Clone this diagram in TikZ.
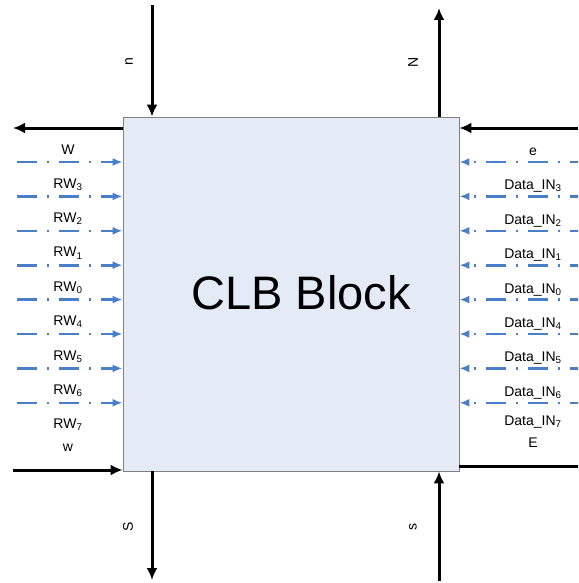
\documentclass[tikz,border=0pt]{standalone}
\usepackage{fontspec}
\setmainfont{Liberation Sans}
\usetikzlibrary{arrows.meta}
\definecolor{blockfill}{RGB}{228,235,247}
\definecolor{sigblue}{RGB}{74,126,199}

\begin{document}
\begin{tikzpicture}[x=1pt,y=-1pt,
  bus/.style={line width=3pt,-{Latex[length=12pt,width=11pt]}},
  sig/.style={sigblue,line width=2.6pt,dash pattern=on 20pt off 10pt on 2pt off 10pt,
    -{Latex[length=10pt,width=8pt]}},
  lab/.style={font=\fontsize{14}{16}\selectfont},
  vlab/.style={font=\fontsize{14}{16}\selectfont,rotate=90}]
\useasboundingbox (0,0) rectangle (578,583);
\clip (0,0) rectangle (578,583);
%block
\node[draw=gray,line width=0.8pt,fill=blockfill,minimum width=336pt,minimum height=354pt,
  inner sep=0pt] (clb) at (291,294) {};
\node[font=\fontsize{47}{52}\selectfont] (title) at (301,293) {CLB Block};
%west side
\coordinate (wout) at (13,128);
\draw[bus] (wout -| clb.west) -- (wout);
\foreach \lab [count=\i from 0] in {W,RW\textsubscript{3},RW\textsubscript{2},RW\textsubscript{1},
  RW\textsubscript{0},RW\textsubscript{4},RW\textsubscript{5},RW\textsubscript{6}}{
  \coordinate (l\i) at (17,162+34.4*\i);
  \draw[sig] (l\i) -- (l\i -| clb.west);
  \node[lab] (ll\i) at (68,150+34.4*\i) {\lab};
}
\node[lab] (rw7) at (68,425) {RW\textsubscript{7}};
\node[lab] (wl) at (68,448) {w};
\coordinate (win) at (13,470);
\draw[bus] (win) -- (win -| clb.west);
%east side
\coordinate (ein) at (578,128);
\draw[bus] (ein) -- (ein -| clb.east);
\foreach \lab [count=\i from 0] in {e,Data\_IN\textsubscript{3},Data\_IN\textsubscript{2},
  Data\_IN\textsubscript{1},Data\_IN\textsubscript{0},Data\_IN\textsubscript{4},
  Data\_IN\textsubscript{5},Data\_IN\textsubscript{6}}{
  \coordinate (r\i) at (590,162+34.4*\i);
  \draw[sig] (r\i) -- (r\i -| clb.east);
  \node[lab] (rl\i) at (533,152+34.4*\i) {\lab};
}
\node[lab] (din7) at (533,422) {Data\_IN\textsubscript{7}};
\node[lab] (el) at (533,443) {E};
\coordinate (eout) at (592,466);
\draw[bus] (eout -| clb.east) -- (eout);
%north side
\coordinate (nin) at (152,5);
\draw[bus] (nin) -- (nin |- clb.north);
\node[vlab] (nl) at (129,62) {n};
\coordinate (nout) at (439,8);
\draw[bus] (nout |- clb.north) -- (nout);
\node[vlab] (Nl) at (413,62) {N};
%south side
\coordinate (sout) at (152,580);
\draw[bus] (sout |- clb.south) -- (sout);
\node[vlab] (Sl) at (128,527) {S};
\coordinate (sin) at (439,581);
\draw[bus] (sin) -- (sin |- clb.south);
\node[vlab] (sl) at (413,527) {s};
\end{tikzpicture}
\end{document}
